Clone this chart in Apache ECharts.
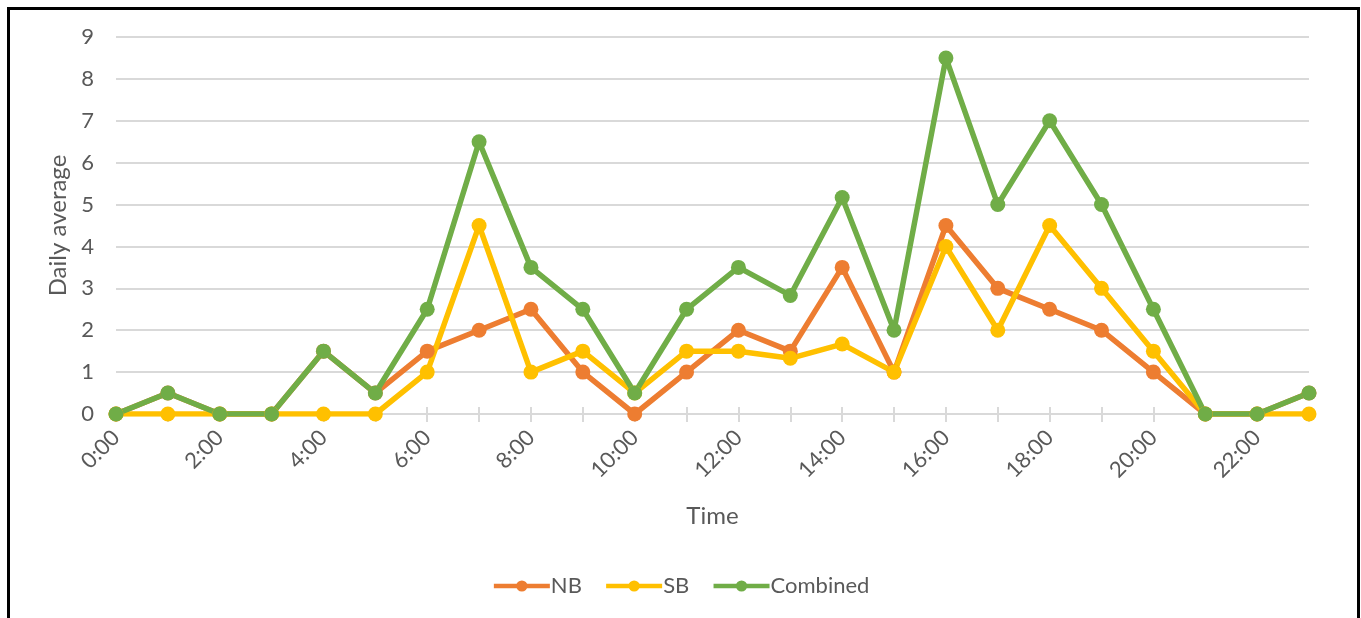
<!DOCTYPE html>
<html>
<head>
<meta charset="utf-8">
<script src="https://cdn.jsdelivr.net/npm/echarts@6/dist/echarts.min.js"></script>
<style>
html,body{margin:0;padding:0;background:#fff;}
#chart{width:1361px;height:618px;}
</style>
</head>
<body>
<div id="chart"></div>
<script>
const categories = ['0:00','1:00','2:00','3:00','4:00','5:00','6:00','7:00','8:00','9:00','10:00','11:00','12:00','13:00','14:00','15:00','16:00','17:00','18:00','19:00','20:00','21:00','22:00','23:00'];
const nb = [0,0.5,0,0,1.5,0.5,1.5,2,2.5,1,0,1,2,1.5,3.5,1,4.5,3,2.5,2,1,0,0,0.5];
const sb = [0,0,0,0,0,0,1,4.5,1,1.5,0.5,1.5,1.5,1.33,1.67,1,4,2,4.5,3,1.5,0,0,0];
const combined = [0,0.5,0,0,1.5,0.5,2.5,6.5,3.5,2.5,0.5,2.5,3.5,2.83,5.17,2,8.5,5,7,5,2.5,0,0,0.5];
const yTicks = [0,1,2,3,4,5,6,7,8,9];

const FONT = 'Lato, Carlito, "Open Sans", sans-serif';
const chart = echarts.init(document.getElementById('chart'), null, {renderer:'canvas'});
function mk(name, data, color){
  return {name, type:'line', data, color, symbol:'circle', symbolSize:15,
    lineStyle:{width:5.5, color}, itemStyle:{color}, emphasis:{disabled:true}, z:3};
}
chart.setOption({
  animation:false,
  textStyle:{fontFamily:FONT},
  graphic:[{type:'rect', shape:{x:8.5,y:8.5,width:1350,height:700}, style:{fill:null, stroke:'#000', lineWidth:3}, z:100}],
  grid:{left:116, right:52, top:37, bottom:204, containLabel:false},
  legend:{top:570, left:'center', itemWidth:56, itemHeight:14, itemGap:22,
    lineStyle:{width:4.5},
    textStyle:{fontFamily:FONT, fontSize:22, color:'#595959', padding:[0,0,0,-4]},
    data:['NB','SB','Combined']},
  xAxis:[{type:'category', data:categories, boundaryGap:false,
    name:'Time', nameLocation:'middle', nameGap:90,
    nameTextStyle:{fontFamily:FONT, fontSize:24, color:'#595959'},
    axisLine:{lineStyle:{color:'#d9d9d9', width:2}},
    axisTick:{show:true, interval:0, length:8, lineStyle:{color:'#d9d9d9', width:2}},
    axisLabel:{interval:1, rotate:45, fontSize:22, color:'#595959', margin:20, fontFamily:FONT},
    splitLine:{show:false}},
   {type:'category', data:categories, boundaryGap:false, position:'bottom',
    axisLine:{show:false}, axisLabel:{show:false},
    axisTick:{show:true, inside:true, interval:0, length:7, lineStyle:{color:'#d9d9d9', width:2}}}],
  yAxis:{type:'value', min:0, max:9, interval:1,
    name:'Daily average', nameLocation:'middle', nameGap:46,
    nameTextStyle:{fontFamily:FONT, fontSize:24, color:'#595959'},
    axisLine:{show:false}, axisTick:{show:false},
    axisLabel:{fontSize:22, color:'#595959', margin:22, fontFamily:FONT},
    splitLine:{lineStyle:{color:'#d9d9d9', width:2}}},
  series:[mk('NB', nb, '#ED7D31'), mk('SB', sb, '#FFC000'), mk('Combined', combined, '#70AD47')]
});
</script>
</body>
</html>
